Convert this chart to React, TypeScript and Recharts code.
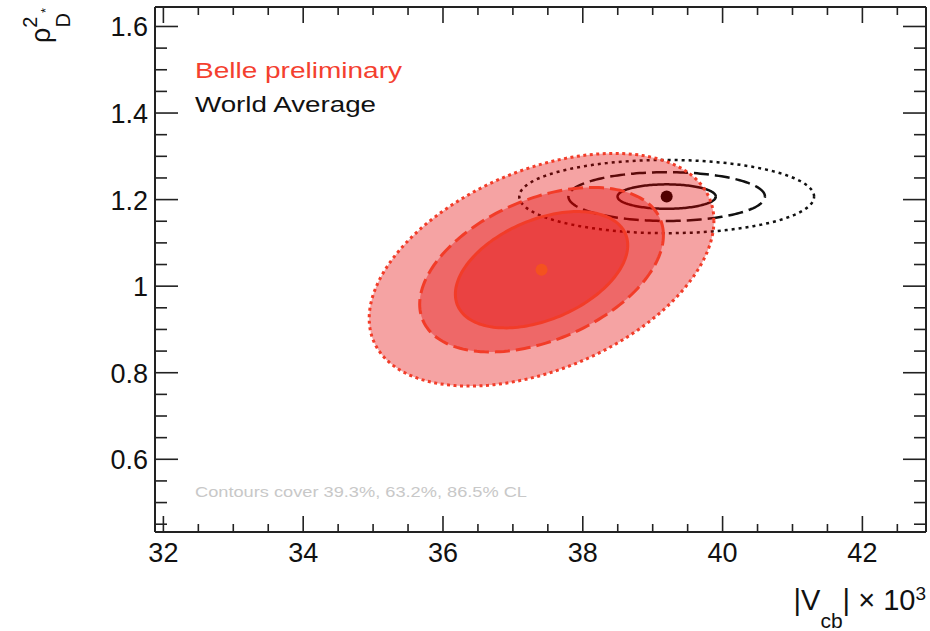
import React from 'react'
import { ScatterChart, Scatter, XAxis, YAxis } from 'recharts'

// axis ticks (major ones get a label)
const xMajor = [32, 34, 36, 38, 40, 42]
const xTicks = [32, 32.5, 33, 33.5, 34, 34.5, 35, 35.5, 36, 36.5, 37, 37.5, 38, 38.5, 39, 39.5, 40, 40.5, 41, 41.5, 42, 42.5]
const yMajor = [0.6, 0.8, 1, 1.2, 1.4, 1.6]
const yTicks = [0.45, 0.5, 0.55, 0.6, 0.65, 0.7, 0.75, 0.8, 0.85, 0.9, 0.95, 1, 1.05, 1.1, 1.15, 1.2, 1.25, 1.3, 1.35, 1.4, 1.45, 1.5, 1.55, 1.6]

// Belle fit: central value, widths, correlation
const belleCenter = [37.41, 1.038]
const belleSigma = [1.233, 0.1344]
const belleRho = 0.42
const belleLevels = [2, 1.414, 1] // 86.5%, 63.2%, 39.3%
const belleDash = ['3 3.5', '15 6', undefined]

// world average
const waCenter = [39.2, 1.207]
const waSigma = [0.703, 0.0282]
const waRho = 0
const waLevels = [3, 2, 1]
const waDash = ['3 4', '15 6', undefined]

const X_DOMAIN = [31.88, 42.91]
const Y_DOMAIN = [0.432, 1.645]
const AXIS = '#222'
const FONT = '"Liberation Sans", Arial, Helvetica, sans-serif'

function contour(c: number[], s: number[], rho: number, k: number) {
  const pts = []
  const n = 180
  for (let i = 0; i <= n; i++) {
    const t = (i / n) * 2 * Math.PI
    pts.push({
      x: c[0] + k * s[0] * Math.cos(t),
      y: c[1] + k * s[1] * (rho * Math.cos(t) + Math.sqrt(1 - rho * rho) * Math.sin(t)),
    })
  }
  return pts
}

const isMajor = (list: number[], v: number) => list.some((m) => Math.abs(m - v) < 1e-6)

const noDot = () => <g />

function BottomTick(props: any) {
  const { x, y, payload } = props
  const major = isMajor(xMajor, payload.value)
  return (
    <g>
      <line x1={x} x2={x} y1={y} y2={y - (major ? 16 : 8)} stroke={AXIS} strokeWidth={1.6} />
      {major && (
        <text x={x} y={y + 30} textAnchor="middle" fontSize={27} fill="#111" fontFamily={FONT}>
          {payload.value}
        </text>
      )}
    </g>
  )
}

function TopTick(props: any) {
  const { x, y, payload } = props
  const major = isMajor(xMajor, payload.value)
  return <line x1={x} x2={x} y1={y} y2={y + (major ? 16 : 8)} stroke={AXIS} strokeWidth={1.6} />
}

function LeftTick(props: any) {
  const { x, y, payload } = props
  const major = isMajor(yMajor, payload.value)
  return (
    <g>
      <line x1={x} x2={x + (major ? 23 : 12)} y1={y} y2={y} stroke={AXIS} strokeWidth={1.6} />
      {major && (
        <text x={x - 7} y={y + 10} textAnchor="end" fontSize={27} fill="#111" fontFamily={FONT}>
          {payload.value}
        </text>
      )}
    </g>
  )
}

function RightTick(props: any) {
  const { x, y, payload } = props
  const major = isMajor(yMajor, payload.value)
  return <line x1={x - (major ? 23 : 12)} x2={x} y1={y} y2={y} stroke={AXIS} strokeWidth={1.6} />
}

export default function App() {
  return (
    <div style={{ position: 'absolute', left: 0, top: 0, width: 930, height: 631, background: '#fff' }}>
      <ScatterChart width={930} height={631} margin={{ top: 6, right: 3, bottom: 0, left: 0 }} style={{ fontFamily: FONT }}>
        <XAxis
          xAxisId={0}
          dataKey="x"
          type="number"
          domain={X_DOMAIN}
          allowDataOverflow
          ticks={xTicks}
          interval={0}
          height={99}
          tickSize={0}
          tickMargin={0}
          tickLine={false}
          axisLine={{ stroke: AXIS, strokeWidth: 2 }}
          tick={<BottomTick />}
        />
        <XAxis
          xAxisId="top"
          dataKey="x"
          orientation="top"
          type="number"
          domain={X_DOMAIN}
          allowDataOverflow
          ticks={xTicks}
          interval={0}
          height={1}
          tickSize={0}
          tickMargin={0}
          tickLine={false}
          axisLine={{ stroke: AXIS, strokeWidth: 2 }}
          tick={<TopTick />}
        />
        <YAxis
          yAxisId={0}
          dataKey="y"
          type="number"
          domain={Y_DOMAIN}
          allowDataOverflow
          ticks={yTicks}
          interval={0}
          width={155}
          tickSize={0}
          tickMargin={0}
          tickLine={false}
          axisLine={{ stroke: AXIS, strokeWidth: 2 }}
          tick={<LeftTick />}
        />
        <YAxis
          yAxisId="right"
          dataKey="y"
          orientation="right"
          type="number"
          domain={Y_DOMAIN}
          allowDataOverflow
          ticks={yTicks}
          interval={0}
          width={1}
          tickSize={0}
          tickMargin={0}
          tickLine={false}
          axisLine={{ stroke: AXIS, strokeWidth: 2 }}
          tick={<RightTick />}
        />

        {/* keeps the top and right frame axes alive */}
        <Scatter
          xAxisId="top"
          yAxisId="right"
          data={[{ x: waCenter[0], y: waCenter[1] }]}
          shape={noDot}
          isAnimationActive={false}
        />

        {waLevels.map((k, i) => (
          <Scatter
            key={'wa' + k}
            data={contour(waCenter, waSigma, waRho, k)}
            lineType="joint"
            line={{ stroke: '#111', strokeWidth: 2.5, strokeDasharray: waDash[i], fill: 'none' }}
            shape={noDot}
            isAnimationActive={false}
          />
        ))}
        <Scatter
          data={[{ x: waCenter[0], y: waCenter[1] }]}
          shape={(p: any) => <circle cx={p.cx} cy={p.cy} r={6} fill="#000" />}
          isAnimationActive={false}
        />

        {belleLevels.map((k, i) => (
          <Scatter
            key={'belle' + k}
            data={contour(belleCenter, belleSigma, belleRho, k)}
            lineType="joint"
            line={{
              stroke: '#f23c28',
              strokeWidth: 3,
              strokeDasharray: belleDash[i],
              fill: 'rgb(226,0,0)',
              fillOpacity: 0.36,
            }}
            shape={noDot}
            isAnimationActive={false}
          />
        ))}
        <Scatter
          data={[{ x: belleCenter[0], y: belleCenter[1] }]}
          shape={(p: any) => <circle cx={p.cx} cy={p.cy} r={6} fill="#f4521f" />}
          isAnimationActive={false}
        />

        <text x={195} y={78} fontSize={22} fill="#f43f2f" fontFamily={FONT} textLength={207} lengthAdjust="spacingAndGlyphs">
          Belle preliminary
        </text>
        <text x={195} y={112} fontSize={22} fill="#111" fontFamily={FONT} textLength={181} lengthAdjust="spacingAndGlyphs">
          World Average
        </text>
        <text x={195} y={497} fontSize={15.5} fill="#c8c8c8" fontFamily={FONT} textLength={332} lengthAdjust="spacingAndGlyphs">
          Contours cover 39.3%, 63.2%, 86.5% CL
        </text>

        <text transform="translate(50,43) rotate(-90)" fontSize={27} fill="#111" fontFamily={FONT}>
          ρ
          <tspan fontSize={20} dy={-13}>2</tspan>
          <tspan fontSize={20} dx={-11} dy={33}>D</tspan>
          <tspan fontSize={13} dy={-20}>*</tspan>
        </text>

        <text x={926} y={610} textAnchor="end" fontSize={29} fill="#111" fontFamily={FONT}>
          |V
          <tspan fontSize={21} dy={18}>cb</tspan>
          <tspan dy={-18}>| × 10</tspan>
          <tspan fontSize={19} dy={-10}>3</tspan>
        </text>
      </ScatterChart>
    </div>
  )
}
